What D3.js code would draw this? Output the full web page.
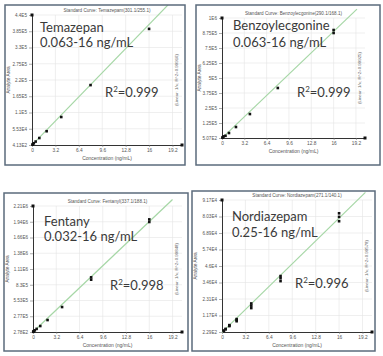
<!DOCTYPE html>
<html><head><meta charset="utf-8">
<script src="https://cdn.jsdelivr.net/npm/d3@7"></script>
<style>html,body{margin:0;padding:0;background:#fff;} svg{display:block;}</style>
</head><body>
<svg id="c" width="383" height="356"></svg>
<script>
// ---------- data ----------
const xTicks = [0, 3.2, 6.4, 9.6, 12.8, 16, 19.2];
const xTickLabels = ["0", "3.2", "6.4", "9.6", "12.8", "16", "19.2"];
const xAxisMax = 20.5;

const compoundNames = ["Temazepan", "Benzoylecgonine", "Fentany", "Nordiazepam"];
const rangeLabels = ["0.063-16 ng/mL", "0.063-16 ng/mL", "0.032-16 ng/mL", "0.25-16 ng/mL"];
const r2Labels = ["0.999", "0.999", "0.998", "0.996"];
const curveTitles = [
  "Standard Curve: Temazepam(301.1/255.1)",
  "Standard Curve: Benzoylecgonine(290.1/168.1)",
  "Standard Curve: Fentanyl(337.1/188.1)",
  "Standard Curve: Nordiazepam(271.1/140.1)"
];
const fitLabels = [
  "(Linear: 1/x; R^2=0.99916)",
  "(Linear: 1/x; R^2=0.99925)",
  "(Linear: 1/x; R^2=0.99848)",
  "(Linear: 1/x; R^2=0.99578)"
];

const temazepanConc = [0.063, 0.125, 0.25, 0.5, 1, 2, 4, 8, 16];
const temazepanArea = [1500, 3100, 6300, 12000, 24000, 47000, 95000, 203000, 393000];
const temazepanYTicks = ["4.13E2", "5.53E4", "1.1E5", "1.65E5", "2.2E5", "2.75E5", "3.3E5", "3.85E5", "4.4E5"];
const temazepanYRange = [413, 440000];

const benzoConc = [0.063, 0.125, 0.25, 0.5, 1, 2, 4, 8, 16, 16];
const benzoArea = [3500, 7000, 14000, 19000, 42000, 92000, 200000, 417000, 875000, 900000];
const benzoYTicks = ["5.07E2", "1.25E5", "2.5E5", "3.75E5", "5E5", "6.25E5", "7.5E5", "8.75E5", "1E6"];
const benzoYRange = [507, 1000000];

const fentanylConc = [0.032, 0.063, 0.125, 0.25, 0.5, 1, 2, 4, 8, 8, 16, 16];
const fentanylArea = [4000, 8000, 15000, 30000, 55000, 105000, 210000, 438000, 918000, 959000, 1930000, 1975000];
const fentanylYTicks = ["2.78E2", "2.77E5", "5.53E5", "8.3E5", "1.11E6", "1.38E6", "1.66E6", "1.94E6", "2.21E6"];
const fentanylYRange = [278, 2210000];

const nordiazepamConc = [0.25, 0.25, 0.5, 0.5, 1, 1, 1, 2, 2, 2, 4, 4, 4, 8, 8, 8, 16, 16, 16];
const nordiazepamArea = [1000, 1200, 2100, 2400, 4300, 4700, 5000, 7700, 8500, 9200, 16800, 18500, 20000, 35500, 37500, 39000, 77000, 80000, 82500];
const nordiazepamYTicks = ["2.29E2", "1.17E4", "2.31E4", "3.46E4", "4.6E4", "5.74E4", "6.89E4", "8.03E4", "9.17E4"];
const nordiazepamYRange = [229, 91700];

const fitSlopes = [25500, 55500, 121000, 4950];
const fitEnds = [18.6, 19.35, 19.2, 19.6];

const concs = [temazepanConc, benzoConc, fentanylConc, nordiazepamConc];
const areas = [temazepanArea, benzoArea, fentanylArea, nordiazepamArea];
const yTickSets = [temazepanYTicks, benzoYTicks, fentanylYTicks, nordiazepamYTicks];
const yRanges = [temazepanYRange, benzoYRange, fentanylYRange, nordiazepamYRange];

// ---------- layout ----------
const layouts = [
  {bx:5, by:5, bw:180, bh:160, x0:32, xEnd:182, yBot:145, yTop:15, nx:40, ny:32, ry:47, r2x:105, r2y:97},
  {bx:196, by:5, bw:184, bh:160, x0:222, xEnd:365, yBot:138, yTop:18, nx:233, ny:30, ry:47, r2x:297, r2y:97},
  {bx:4, by:193, bw:184, bh:158, x0:33, xEnd:182, yBot:332, yTop:206, nx:44, ny:226, ry:241, r2x:110, r2y:290},
  {bx:192, by:191, bw:183, bh:160, x0:222, xEnd:372, yBot:332, yTop:200, nx:232, ny:221, ry:237, r2x:295, r2y:288}
];

const svg = d3.select("#c");
const smallFont = "Liberation Sans, Arial, sans-serif";
const bigFont = "Lato, 'Open Sans', sans-serif";

layouts.forEach((L, p) => {
  const g = svg.append("g");
  const clipId = "clip" + p;
  svg.append("clipPath").attr("id", clipId)
    .append("rect").attr("x", L.bx).attr("y", L.by).attr("width", L.bw).attr("height", L.bh);

  const x = d3.scaleLinear().domain([0, xAxisMax]).range([L.x0, L.xEnd]);
  const y = d3.scaleLinear().domain(yRanges[p]).range([L.yBot, L.yTop]);
  const yVals = d3.range(9).map(i => yRanges[p][0] + i * (yRanges[p][1] - yRanges[p][0]) / 8);

  // grid
  g.append("g").selectAll("line").data(xTicks.slice(1)).join("line")
    .attr("x1", d => x(d)).attr("x2", d => x(d)).attr("y1", L.yTop).attr("y2", L.yBot)
    .attr("stroke", "#e4e4e4").attr("stroke-width", 0.6);
  g.append("g").selectAll("line").data(yVals.slice(1)).join("line")
    .attr("x1", L.x0).attr("x2", L.xEnd).attr("y1", d => y(d)).attr("y2", d => y(d))
    .attr("stroke", "#e4e4e4").attr("stroke-width", 0.6);

  // axes
  const yAxis = d3.axisLeft(y).tickValues(yVals).tickFormat((d, i) => yTickSets[p][i])
    .tickSize(3).tickSizeOuter(0).tickPadding(2);
  const ya = g.append("g").attr("transform", `translate(${L.x0},0)`).call(yAxis);
  ya.selectAll("text").attr("font-size", 4.6).attr("font-family", smallFont).attr("fill", "#555");
  ya.selectAll("line").attr("stroke", "#777").attr("stroke-width", 0.6);
  ya.select(".domain").attr("stroke", "#333").attr("stroke-width", 1);

  const xAxis = d3.axisBottom(x).tickValues(xTicks).tickFormat((d, i) => xTickLabels[i])
    .tickSize(2).tickSizeOuter(0).tickPadding(2);
  const xa = g.append("g").attr("transform", `translate(0,${L.yBot})`).call(xAxis);
  xa.selectAll("text").attr("font-size", 4.8).attr("font-family", smallFont).attr("fill", "#555");
  xa.selectAll("line").attr("stroke", "#777").attr("stroke-width", 0.6);
  xa.select(".domain").attr("stroke", "#333").attr("stroke-width", 1);

  // axis end markers
  g.append("rect").attr("x", L.x0 - 1.5).attr("y", L.yTop - 1.5).attr("width", 3).attr("height", 3).attr("fill", "#111");
  g.append("rect").attr("x", L.xEnd - 1.5).attr("y", L.yBot - 1.5).attr("width", 3).attr("height", 3).attr("fill", "#111");

  // axis titles
  g.append("text").attr("transform", `translate(${L.bx + 5},${(L.yTop + L.yBot) / 2}) rotate(-90)`)
    .attr("text-anchor", "middle").attr("font-size", 4.8).attr("font-family", smallFont).attr("fill", "#555")
    .text("Analyte Area");
  g.append("text").attr("x", (L.x0 + L.xEnd) / 2).attr("y", L.yBot + 15)
    .attr("text-anchor", "middle").attr("font-size", 5).attr("font-family", smallFont).attr("fill", "#555")
    .text("Concentration (ng/mL)");
  g.append("text").attr("x", (L.x0 + L.xEnd) / 2).attr("y", L.yTop - 3)
    .attr("text-anchor", "middle").attr("font-size", 4.6).attr("font-family", smallFont).attr("fill", "#555")
    .text(curveTitles[p]);
  g.append("text").attr("transform", `translate(${L.xEnd - 4},${(L.yTop + L.yBot) / 2}) rotate(-90)`)
    .attr("text-anchor", "middle").attr("font-size", 4.4).attr("font-family", smallFont).attr("fill", "#666")
    .text(fitLabels[p]);

  // fit line
  const fit = [0, fitEnds[p]].map(c => [c, c * fitSlopes[p]]);
  g.append("path").datum(fit)
    .attr("clip-path", `url(#${clipId})`)
    .attr("d", d3.line().x(d => x(d[0])).y(d => y(d[1])))
    .attr("stroke", "#a6d7a6").attr("stroke-width", 1.2).attr("fill", "none");

  // points
  g.append("g").selectAll("rect").data(concs[p].map((c, i) => [c, areas[p][i]])).join("rect")
    .attr("x", d => x(d[0]) - 1.3).attr("y", d => y(d[1]) - 1.3)
    .attr("width", 2.6).attr("height", 2.6).attr("fill", "#111");

  // big labels
  g.append("text").attr("x", L.nx).attr("y", L.ny).attr("font-size", 13).attr("font-family", bigFont)
    .attr("fill", "#3a3a3a").text(compoundNames[p]);
  g.append("text").attr("x", L.nx).attr("y", L.ry).attr("font-size", 13).attr("font-family", bigFont)
    .attr("fill", "#3a3a3a").text(rangeLabels[p]);
  const r2 = g.append("text").attr("x", L.r2x).attr("y", L.r2y).attr("font-size", 13).attr("font-family", bigFont)
    .attr("fill", "#3a3a3a");
  r2.append("tspan").text("R");
  r2.append("tspan").attr("font-size", 8).attr("dy", -5).text("2");
  r2.append("tspan").attr("dy", 5).text("=" + r2Labels[p]);

  // border
  g.append("rect").attr("x", L.bx).attr("y", L.by).attr("width", L.bw).attr("height", L.bh)
    .attr("fill", "none").attr("stroke", "#5b6b7c").attr("stroke-width", 1.5);
});
</script>
</body></html>
